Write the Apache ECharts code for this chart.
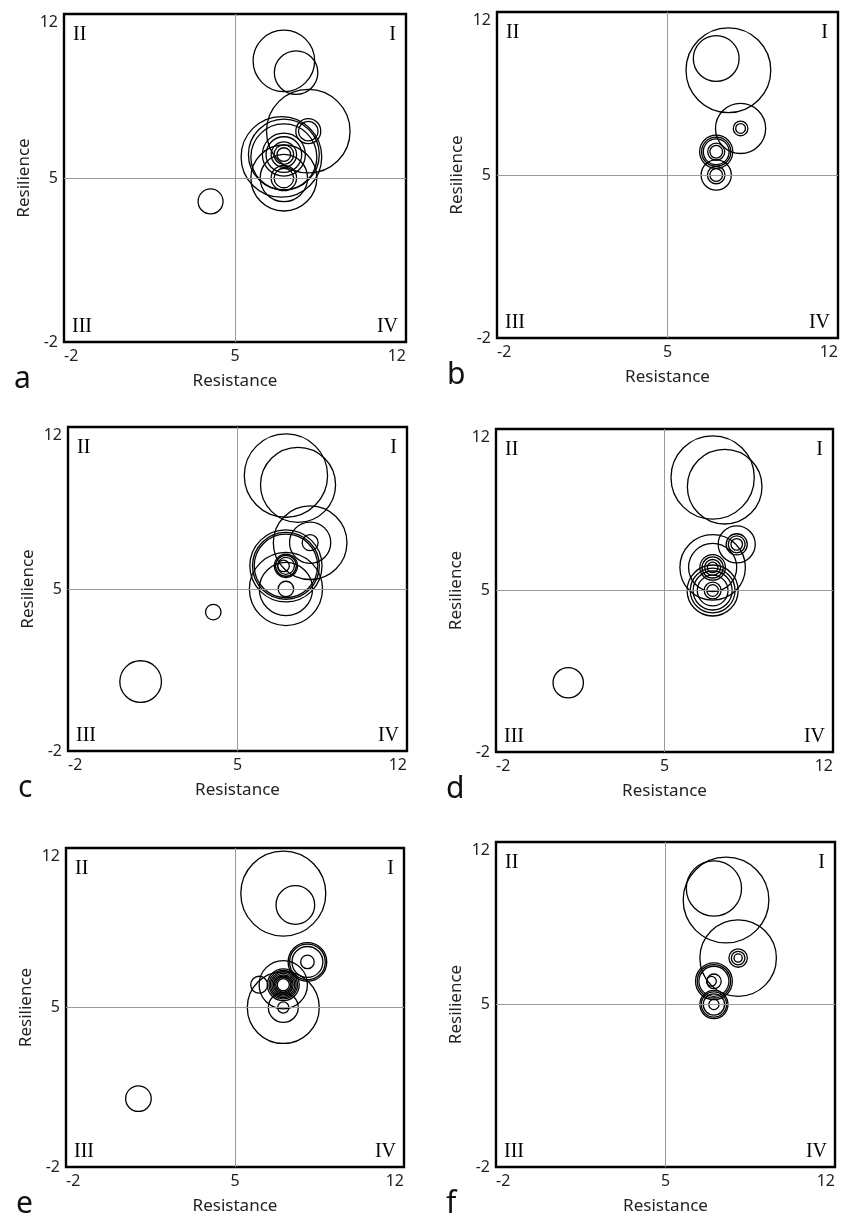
<!DOCTYPE html>
<html>
<head>
<meta charset="utf-8">
<script src="https://cdn.jsdelivr.net/npm/echarts/dist/echarts.min.js"></script>
<style>
html,body{margin:0;padding:0;background:#fff;}
#chart{width:848px;height:1226px;}
</style>
</head>
<body>
<div id="chart"></div>
<script>
// ---- data: each circle is [resistance, resilience, radius (resistance units)] ----
const panelA = [
  [7.0, 10.0, 1.26], [7.5, 9.5, 0.89],
  [8.0, 7.0, 1.71], [8.0, 7.0, 0.51], [8.0, 7.0, 0.40],
  [6.9, 5.9, 1.65], [7.0, 6.0, 1.45], [7.0, 5.9, 1.35], [7.0, 6.0, 0.88],
  [7.0, 6.0, 0.73], [7.0, 6.0, 0.52], [7.0, 6.0, 0.40], [7.0, 6.0, 0.28],
  [7.0, 5.0, 1.35], [7.0, 5.0, 0.97], [7.0, 5.0, 0.52], [7.0, 5.0, 0.40],
  [4.0, 4.0, 0.51]
];
const panelB = [
  [7.5, 9.5, 1.74], [7.0, 10.0, 0.94],
  [8.0, 7.0, 1.03], [8.0, 7.0, 0.30], [8.0, 7.0, 0.20],
  [7.0, 6.0, 0.68], [7.0, 6.0, 0.60], [7.0, 6.0, 0.53], [7.0, 6.0, 0.35], [7.0, 6.0, 0.26],
  [7.0, 5.0, 0.62], [7.0, 5.0, 0.36], [7.0, 5.0, 0.26]
];
const panelC = [
  [7.0, 9.9, 1.72], [7.5, 9.5, 1.55],
  [8.0, 7.0, 1.52], [8.0, 7.0, 0.85], [8.0, 7.0, 0.33],
  [7.0, 6.0, 1.49], [7.0, 6.0, 1.38], [7.0, 6.0, 1.31], [7.0, 6.0, 0.48],
  [7.0, 6.0, 0.43], [7.0, 6.0, 0.35], [6.9, 6.0, 0.24],
  [7.0, 5.0, 1.51], [7.0, 5.0, 1.10], [7.0, 5.0, 0.32],
  [4.0, 4.0, 0.32], [1.0, 1.0, 0.86]
];
const panelD = [
  [7.0, 9.9, 1.73], [7.5, 9.5, 1.55],
  [8.0, 7.0, 0.77], [8.0, 7.0, 0.44], [8.0, 7.0, 0.35], [8.0, 7.0, 0.24],
  [7.0, 6.0, 1.36], [7.0, 6.0, 1.00], [7.0, 6.0, 0.53], [7.0, 6.0, 0.44],
  [7.0, 6.0, 0.33], [7.0, 6.0, 0.22],
  [7.0, 5.0, 1.06], [7.0, 5.0, 0.93], [7.0, 5.0, 0.81], [7.0, 5.0, 0.64],
  [7.0, 5.0, 0.35], [7.0, 5.0, 0.24],
  [1.0, 1.0, 0.63]
];
const panelE = [
  [7.0, 10.0, 1.76], [7.5, 9.5, 0.80],
  [8.0, 7.0, 0.80], [8.0, 7.0, 0.74], [8.0, 7.0, 0.64], [8.0, 7.0, 0.28],
  [7.0, 6.0, 1.00], [7.0, 6.0, 0.66], [7.0, 6.0, 0.59], [7.0, 6.0, 0.53],
  [7.0, 6.0, 0.47], [7.0, 6.0, 0.41], [7.0, 6.0, 0.36], [7.0, 6.0, 0.31], [7.0, 6.0, 0.25],
  [6.0, 6.0, 0.35],
  [7.0, 5.0, 1.49], [7.0, 5.0, 0.62], [7.0, 5.0, 0.23],
  [1.0, 1.0, 0.53]
];
const panelF = [
  [7.5, 9.5, 1.77], [7.0, 10.0, 1.14],
  [8.0, 7.0, 1.58], [8.0, 7.0, 0.38], [8.0, 7.0, 0.28], [8.0, 7.0, 0.17],
  [7.0, 6.0, 0.76], [7.0, 6.0, 0.69], [7.0, 6.0, 0.62], [7.0, 6.0, 0.30], [6.9, 6.0, 0.20],
  [7.0, 5.0, 0.58], [7.0, 5.0, 0.52], [7.0, 5.0, 0.44], [7.0, 5.0, 0.21]
];
const panels = [panelA, panelB, panelC, panelD, panelE, panelF];
const panelLetters = ['a', 'b', 'c', 'd', 'e', 'f'];
const tickValues = [-2, 5, 12];
const quadrantSplit = 5;
const quadrantNames = ['I', 'II', 'III', 'IV'];
const xName = 'Resistance';
const yName = 'Resilience';

// ---- layout ----
const boxes = [
  {left: 64,  top: 14,  width: 342, height: 328},
  {left: 497, top: 12,  width: 341, height: 326},
  {left: 68,  top: 427, width: 339, height: 324},
  {left: 496, top: 429, width: 337, height: 323},
  {left: 66,  top: 848, width: 338, height: 319},
  {left: 496, top: 842, width: 339, height: 325}
];
const FONT = 'Noto Sans';
const SERIF = 'Liberation Serif';

const chart = echarts.init(document.getElementById('chart'), null, {renderer: 'canvas'});

const labelFmt = v => (tickValues.indexOf(v) >= 0 ? String(v) : '');

function renderItem(params, api) {
  const c = api.coord([api.value(0), api.value(1)]);
  const r = api.size([api.value(2), 0])[0];
  return {
    type: 'circle',
    shape: {cx: c[0], cy: c[1], r: r},
    style: {fill: 'none', stroke: '#000', lineWidth: 1.3},
    silent: true
  };
}

const grid = [], xAxis = [], yAxis = [], series = [], graphic = [];
boxes.forEach((b, i) => {
  grid.push({left: b.left, top: b.top, width: b.width, height: b.height,
    show: true, borderColor: '#000', borderWidth: 2.4, backgroundColor: 'transparent', containLabel: false});
  const lbl = {formatter: labelFmt, margin: 6, fontSize: 16, color: '#222', fontFamily: FONT,
    showMinLabel: true, showMaxLabel: true};
  xAxis.push({gridIndex: i, type: 'value', min: -2, max: 12, interval: 1,
    axisLine: {show: false}, axisTick: {show: false}, splitLine: {show: false},
    axisLabel: Object.assign({}, lbl, {alignMinLabel: 'left', alignMaxLabel: 'right'}),
    name: xName, nameLocation: 'middle', nameGap: 31,
    nameTextStyle: {fontSize: 17, color: '#222', fontFamily: FONT}});
  yAxis.push({gridIndex: i, type: 'value', min: -2, max: 12, interval: 1,
    axisLine: {show: false}, axisTick: {show: false}, splitLine: {show: false},
    axisLabel: Object.assign({}, lbl, {verticalAlignMaxLabel: 'top'}),
    name: yName, nameLocation: 'middle', nameGap: 31,
    nameTextStyle: {fontSize: 17, color: '#222', fontFamily: FONT}});
  series.push({type: 'custom', xAxisIndex: i, yAxisIndex: i, data: panels[i],
    renderItem: renderItem, silent: true, z: 3,
    markLine: {silent: true, symbol: 'none', label: {show: false},
      lineStyle: {color: '#9a9a9a', width: 1, type: 'solid'},
      data: [{xAxis: quadrantSplit}, {yAxis: quadrantSplit}]}});

  const right = b.left + b.width, bottom = b.top + b.height;
  const qs = {fontSize: 20, fontFamily: SERIF, fill: '#000'};
  graphic.push({type: 'text', x: right - 10, y: b.top + 21,
    style: Object.assign({text: quadrantNames[0], textAlign: 'right', textVerticalAlign: 'middle'}, qs)});
  graphic.push({type: 'text', x: b.left + 9, y: b.top + 21,
    style: Object.assign({text: quadrantNames[1], textAlign: 'left', textVerticalAlign: 'middle'}, qs)});
  graphic.push({type: 'text', x: b.left + 8, y: bottom - 15,
    style: Object.assign({text: quadrantNames[2], textAlign: 'left', textVerticalAlign: 'middle'}, qs)});
  graphic.push({type: 'text', x: right - 8, y: bottom - 15,
    style: Object.assign({text: quadrantNames[3], textAlign: 'right', textVerticalAlign: 'middle'}, qs)});
  graphic.push({type: 'text', x: b.left - 50, y: bottom + 37,
    style: {text: panelLetters[i], textAlign: 'left', textVerticalAlign: 'middle',
      fontSize: 30, fontFamily: FONT, fill: '#111'}});
});

chart.setOption({
  animation: false,
  backgroundColor: '#fff',
  grid: grid, xAxis: xAxis, yAxis: yAxis, series: series, graphic: graphic
});
</script>
</body>
</html>
